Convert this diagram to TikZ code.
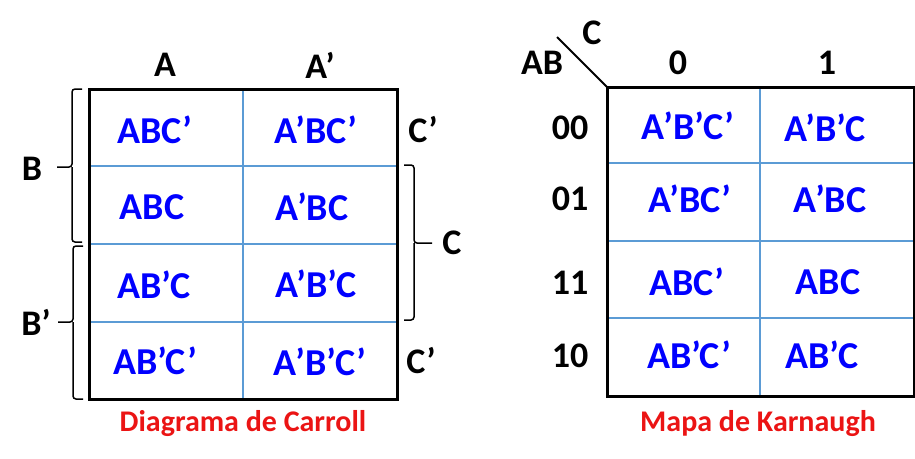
\documentclass[tikz,border=0pt]{standalone}
\usepackage{fontspec}
\setmainfont{Carlito}
\usetikzlibrary{positioning}
\definecolor{gridblue}{RGB}{91,155,213}
\definecolor{termblue}{RGB}{0,0,255}
\definecolor{titlered}{RGB}{235,20,20}
\tikzset{
  cellterm/.style={
    font=\bfseries\fontsize{38}{42}\selectfont, text=termblue, inner sep=0pt
  },
  varlabel/.style={
    font=\bfseries\fontsize{36}{40}\selectfont, inner sep=0pt
  },
  maptitle/.style={
    font=\bfseries\fontsize{30}{34}\selectfont, text=titlered, inner sep=0pt, anchor=base
  },
  gridline/.style={
    gridblue, line width=2.4pt
  },
  gridframe/.style={
    black, line width=3pt
  },
  bracket/.style={
    black, line width=1.5pt, rounded corners=3pt
  }
}
\begin{document}
\begin{tikzpicture}[x=1pt, y=-1pt]
  \useasboundingbox (0,0) rectangle (915,458);

  % Diagrama de Carroll
  \draw[gridline] (243,89) -- (243,399);
  \draw[gridline] (89,166) -- (397,166);
  \draw[gridline] (89,244) -- (397,244);
  \draw[gridline] (89,322) -- (397,322);
  \draw[gridframe] (89,89) rectangle (397,399);

  \node[varlabel] (colA) at (165,65) {A};
  \node[varlabel] (colAn) at (320,65) {A’};
  \node[varlabel] (rowB) at (32,169) {B};
  \node[varlabel] (rowBn) at (36,322) {B’};
  \node[varlabel] (rowCnTop) at (423,130) {C’};
  \node[varlabel] (rowC) at (452,243) {C};
  \node[varlabel] (rowCnBot) at (421,361) {C’};

  \node[cellterm] (cABCn) at (155,130) {ABC’};
  \node[cellterm] (cAnBCn) at (316,130) {A’BC’};
  \node[cellterm] (cABC) at (152,207) {ABC};
  \node[cellterm] (cAnBC) at (312,207) {A’BC};
  \node[cellterm] (cABnC) at (154,285) {AB’C};
  \node[cellterm] (cAnBnC) at (316,284) {A’B’C};
  \node[cellterm] (cABnCn) at (155,361) {AB’C’};
  \node[cellterm] (cAnBnCn) at (320,362) {A’B’C’};

  % braces
  \draw[bracket] (82,89) -| (72,167) -- (57,167);
  \draw[bracket] (72,167) |- (82,242);
  \draw[bracket] (83,246) -| (73,322) -- (58,322);
  \draw[bracket] (73,322) |- (83,399);
  \draw[bracket] (404,165) -| (414,243) -- (432,243);
  \draw[bracket] (414,243) |- (404,320);

  \node[maptitle] (carroll) at (243,431) {Diagrama de Carroll};

  % Mapa de Karnaugh
  \draw[gridline] (760,87) -- (760,396);
  \draw[gridline] (607,163) -- (914,163);
  \draw[gridline] (607,241) -- (914,241);
  \draw[gridline] (607,318) -- (914,318);
  \draw[gridframe] (607,87) rectangle (914,396);
  \draw[black, line width=2pt] (557,37) -- (607,87);

  \node[varlabel] (varC) at (592,33) {C};
  \node[varlabel] (varAB) at (542,63) {AB};
  \node[varlabel] (colZero) at (678,63) {0};
  \node[varlabel] (colOne) at (827,63) {1};
  \node[varlabel] (row00) at (570,128) {00};
  \node[varlabel] (row01) at (570,199) {01};
  \node[varlabel] (row11) at (570,283) {11};
  \node[varlabel] (row10) at (570,356) {10};

  \node[cellterm] (kAnBnCn) at (688,126) {A’B’C’};
  \node[cellterm] (kAnBnC) at (825,128) {A’B’C};
  \node[cellterm] (kAnBCn) at (690,199) {A’BC’};
  \node[cellterm] (kAnBC) at (830,199) {A’BC};
  \node[cellterm] (kABCn) at (687,282) {ABC’};
  \node[cellterm] (kABC) at (828,282) {ABC};
  \node[cellterm] (kABnCn) at (689,355) {AB’C’};
  \node[cellterm] (kABnC) at (822,355) {AB’C};

  \node[maptitle] (karnaugh) at (758,431) {Mapa de Karnaugh};
\end{tikzpicture}
\end{document}
